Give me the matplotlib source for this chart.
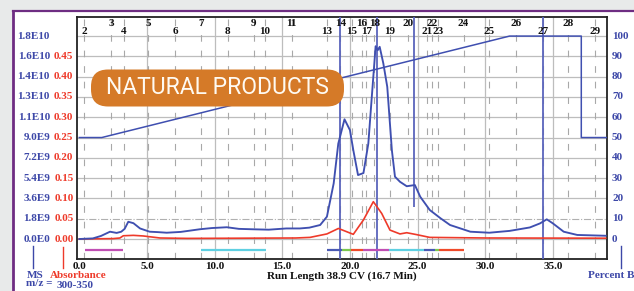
import matplotlib.pyplot as plt
from matplotlib.patches import FancyBboxPatch, Rectangle
from matplotlib.lines import Line2D
from matplotlib.transforms import IdentityTransform

W, H = 634, 291

# MS trace (percent of full scale 1.8E10) vs run length (CV)
ms_cv = [0, 1.0, 1.6, 2.27, 2.76, 3.1, 3.35, 3.62, 4.0, 4.49, 5.2, 5.8, 6.46, 7.5, 8.9, 9.8,
         10.9, 11.8, 12.8, 14.0, 15.3, 16.3, 17.0, 17.8, 18.3, 18.8, 19.14, 19.6, 20.0, 20.25,
         20.6, 21.0, 21.36, 21.6, 21.9, 22.05, 22.2, 22.47, 22.76, 23.1, 23.33, 23.7, 24.2,
         24.8, 25.2, 25.9, 26.7, 27.4, 28.9, 30.3, 31.8, 33.3, 34.05, 34.55, 35.0, 35.8, 36.8, 38.9]
ms_pct = [0, 0.3, 1.5, 3.6, 3.0, 3.6, 5.0, 8.5, 7.8, 5.2, 3.6, 3.4, 3.1, 3.5, 4.8, 5.4,
          5.8, 5.0, 4.8, 4.6, 5.2, 5.2, 5.6, 6.9, 11, 27.4, 47, 59, 53.7, 43.8,
          31.5, 32.5, 47, 68.5, 95, 93, 94.7, 86.5, 75, 43.8, 30.7, 28.2, 26,
          26.6, 20.8, 14.3, 10.2, 6.9, 3.6, 3.1, 4.0, 5.7, 7.7, 9.7, 7.7, 3.6, 2.0, 1.6]

# absorbance (AU)
abs_cv = [0, 2.5, 3.0, 3.25, 4.0, 4.73, 5.96, 8.0, 12.0, 16.0, 17.05, 18.3, 19.15, 19.76,
          20.25, 21.0, 21.73, 22.35, 22.96, 23.7, 24.2, 24.9, 25.9, 30.0, 38.9]
abs_au = [0, 0.001, 0.0025, 0.008, 0.009, 0.0075, 0.0025, 0.0015, 0.002, 0.0025, 0.004,
          0.0125, 0.026, 0.018, 0.0115, 0.047, 0.092, 0.063, 0.022, 0.0125, 0.0155, 0.011,
          0.004, 0.0025, 0.002]

# gradient (Percent B)
grad_cv = [0, 1.66, 31.8, 37.1, 37.1, 39.0]
grad_pct = [50, 50, 100, 100, 50, 50]

# fractions: number, position (CV), row (0 upper, 1 lower)
frac_num = [2, 3, 4, 5, 6, 7, 8, 9, 10, 11, 13, 14, 15, 16, 17, 18, 19, 20, 21, 22, 23, 24, 25, 26, 27, 28, 29]
frac_cv = [0.35, 2.34, 3.3, 5.1, 7.07, 9.0, 10.97, 12.9, 13.7, 15.7, 18.3, 19.3, 20.15, 20.9,
           21.2, 21.8, 22.96, 24.3, 25.7, 26.1, 26.5, 28.4, 30.3, 32.3, 34.3, 36.1, 38.1]
frac_row = [1, 0, 1, 0, 1, 0, 1, 0, 1, 0, 1, 0, 1, 0, 1, 0, 1, 0, 1, 0, 1, 0, 1, 0, 1, 0, 1]

# collected fraction bars
bar_start = [0.42, 9.0, 18.3, 19.4, 20.1, 21.0, 22.9, 25.5, 26.3, 26.6]
bar_end = [3.25, 13.8, 19.4, 20.1, 21.0, 22.9, 25.5, 26.3, 26.6, 28.4]
bar_col = ['#c04fb4', '#5fd0e2', '#4a5ab4', '#7cc84e', '#f04a2a', '#c04fb4',
           '#5fd0e2', '#4a5ab4', '#7cc84e', '#f04a2a']

# marker lines (CV, lower end in %)
mark_cv = [19.3, 21.98, 24.76, 34.3]
mark_low = [-9.85, -9.85, 15.9, -9.85]

ms_labels = ['0.0E0', '1.8E9', '3.6E9', '5.4E9', '7.2E9', '9.0E9', '1.1E10', '1.3E10', '1.4E10', '1.6E10', '1.8E10']
abs_labels = ['0.00', '0.05', '0.10', '0.15', '0.20', '0.25', '0.30', '0.35', '0.40', '0.45']
pct_labels = ['0', '10', '20', '30', '40', '50', '60', '70', '80', '90', '100']
x_ticks = [0, 5, 10, 15, 20, 25, 30, 35]

BLUE = '#3d48a8'
TRACE = '#3f4fb0'
RED = '#ee3a2a'
SERIF = 'Liberation Serif'

fig = plt.figure(figsize=(W / 100, H / 100), dpi=100, facecolor='#e8eaea')

# white panel with purple frame
fig.add_artist(Rectangle((13, 0), W - 13, H - 11, transform=IdentityTransform(),
                         facecolor='white', edgecolor='none', zorder=0))
fig.add_artist(Line2D([13, 13], [0, H - 11], transform=IdentityTransform(), color='#6e2d82', lw=2))
fig.add_artist(Line2D([13, W], [H - 11, H - 11], transform=IdentityTransform(), color='#6e2d82', lw=1.6))

ax = fig.add_axes([77 / W, 1 - 259 / H, 530 / W, 242 / H])
ax.set_xlim(-0.17, 39.0)
ax.set_ylim(-9.85, 109.4)
for s in ax.spines.values():
    s.set_color('#222222')
    s.set_linewidth(1.3)

# grid
for y in range(0, 101, 10):
    if y == 10:
        ax.axhline(y, color='#b0b0b0', lw=0.8, ls='-.', zorder=1)
    else:
        ax.axhline(y, color='#bdbdbd', lw=0.9, zorder=1)
for x in x_ticks[1:]:
    ax.axvline(x, color='#bdbdbd', lw=0.9, zorder=1)
for x in frac_cv:
    ax.axvline(x, color='#a8a8a8', lw=0.8, ls=(0, (6, 8)), zorder=1)

# fraction numbers
for n, x, r in zip(frac_num, frac_cv, frac_row):
    ax.text(x, 106.2 if r == 0 else 102.4, str(n), ha='center', va='center',
            fontsize=8, fontweight='bold', family=SERIF, color='#111111', zorder=5)

# marker lines
for x, lo in zip(mark_cv, mark_low):
    ax.vlines(x, lo, 109.4, color='#5a64bc', lw=1.3, zorder=3)

# fraction bars
for a, b, c in zip(bar_start, bar_end, bar_col):
    ax.plot([a, b], [-5.4, -5.4], color=c, lw=1.6, solid_capstyle='butt', zorder=4)

ax.plot(grad_cv, grad_pct, color=TRACE, lw=1.1, zorder=4)
ax.plot(abs_cv, [v * 200 for v in abs_au], color=RED, lw=1.2, zorder=4)
ax.plot(ms_cv, ms_pct, color=TRACE, lw=1.35, zorder=4)

ax.set_yticks([])
ax.set_xticks(x_ticks)
ax.set_xticklabels(['%.1f' % v for v in x_ticks], fontsize=8, fontweight='bold',
                   family=SERIF, color='#111111')
ax.tick_params(axis='x', length=0, pad=2)

tr = ax.get_yaxis_transform()
for i, lab in enumerate(ms_labels):
    ax.text(-27 / 530, i * 10, lab, transform=tr, ha='right', va='center', fontsize=8,
            fontweight='bold', family=SERIF, color=BLUE, clip_on=False)
for i, lab in enumerate(abs_labels):
    ax.text(-3.5 / 530, i * 10, lab, transform=tr, ha='right', va='center', fontsize=8,
            fontweight='bold', family=SERIF, color=RED, clip_on=False)
for i, lab in enumerate(pct_labels):
    ax.text(1 + 5 / 530, i * 10, lab, transform=tr, ha='left', va='center', fontsize=8,
            fontweight='bold', family=SERIF, color=BLUE, clip_on=False)

# axis captions
fig.text(342 / W, 1 - 276 / H, 'Run Length 38.9 CV (16.7 Min)', ha='center', va='center',
         fontsize=8, fontweight='bold', family=SERIF, color='#111111')
fig.text(35 / W, 1 - 275 / H, 'MS', ha='center', va='center', fontsize=8,
         fontweight='bold', family=SERIF, color=BLUE)
fig.text(78 / W, 1 - 275 / H, 'Absorbance', ha='center', va='center', fontsize=8,
         fontweight='bold', family=SERIF, color=RED)
fig.text(26 / W, 1 - 284 / H, 'm/z =', ha='left', va='center', fontsize=8,
         fontweight='bold', family=SERIF, color=BLUE)
fig.text(57 / W, 1 - 285 / H, '300-350', ha='left', va='center', fontsize=8,
         fontweight='bold', family=SERIF, color=BLUE)
fig.text(611 / W, 1 - 276 / H, 'Percent B', ha='center', va='center', fontsize=8,
         fontweight='bold', family=SERIF, color=BLUE)
fig.add_artist(Line2D([33, 33], [H - 246, H - 268], transform=IdentityTransform(), color=BLUE, lw=1))
fig.add_artist(Line2D([63, 63], [H - 247, H - 268], transform=IdentityTransform(), color=RED, lw=1))
fig.add_artist(Line2D([620.5, 620.5], [H - 246, H - 268], transform=IdentityTransform(), color=BLUE, lw=1))

# orange banner
fig.add_artist(FancyBboxPatch((91, H - 106.5), 253, 37, transform=IdentityTransform(),
                              boxstyle='round,pad=0,rounding_size=17',
                              facecolor='#d57a28', edgecolor='none', zorder=10))
fig.text(217 / W, 1 - 88 / H, 'NATURAL PRODUCTS', ha='center', va='center', fontsize=16.5,
         family='Roboto', color='#fffaf2', zorder=11)

fig.savefig('out.png', dpi=100, facecolor=fig.get_facecolor())
